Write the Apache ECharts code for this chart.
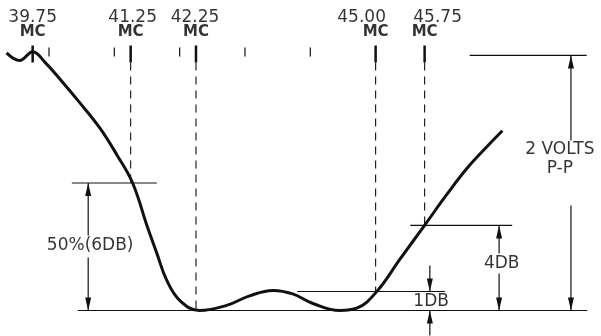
<!DOCTYPE html>
<html>
<head>
<meta charset="utf-8">
<script src="https://cdn.jsdelivr.net/npm/echarts@6/dist/echarts.min.js"></script>
<style>
  html, body { margin: 0; padding: 0; background: #fff; }
  #main { width: 601px; height: 336px; }
</style>
</head>
<body>
<div id="main"></div>
<script>
// response curve (MHz, volts p-p above the passband floor)
const curveFreq = [39.35, 39.55, 39.75, 39.95, 40.16, 40.47, 40.78, 41.04, 41.28, 41.51, 41.65, 41.80,
  42.00, 42.30, 42.72, 43.07, 43.43, 43.73, 44.04, 44.45, 44.72, 45.02, 45.37, 45.78, 46.09,
  46.39, 46.75, 46.94];
const curveVolts = [2.02, 1.96, 2.03, 1.94, 1.82, 1.63, 1.43, 1.22, 1.00, 0.65, 0.45, 0.24,
  0.08, 0.00, 0.04, 0.115, 0.157, 0.13, 0.055, 0.00, 0.02, 0.15, 0.40, 0.69, 0.91,
  1.11, 1.31, 1.41];

// marker frequencies
const markerFreq = [39.75, 41.25, 42.25, 45.00, 45.75];
const markerLabels = ['39.75', '41.25', '42.25', '45.00', '45.75'];
const guideEnds = [null, 1.0, 0.0, 0.149, 0.667];   // where the dashed guides stop (volts)
const minorFreq = [40, 41, 42, 43, 44];

// reference levels: [from MHz, to MHz, volts]
const levelLines = [
  [40.44, 48.24, 0.0],     // floor
  [40.35, 41.65, 1.0],     // 50 %
  [43.80, 46.06, 0.149],   // 1 dB
  [45.53, 47.09, 0.667],   // 4 dB
  [46.44, 48.23, 2.0]      // 2 volts
];

// dimension arrows: [MHz, from volts, to volts] (head at "to")
const dimArrows = [
  [40.60, 0.588, 1.0], [40.60, 0.416, 0.0],
  [46.89, 0.447, 0.667], [46.89, 0.29, 0.0],
  [45.83, 0.353, 0.149], [45.83, -0.196, 0.0],
  [47.99, 1.333, 2.0], [47.99, 0.824, 0.0]
];

// dimension texts: [MHz, volts, text]
const dimTexts = [
  [40.63, 0.51, '50%(6DB)'],
  [46.93, 0.369, '4DB'],
  [45.85, 0.07, '1DB'],
  [47.82, 1.263, '2 VOLTS'],
  [47.82, 1.114, 'P-P']
];

// layout for the top scale
const NUM_Y = 2.298, MC_Y = 2.18;
const MAJ_TOP = 2.078, MAJ_BOT = 1.945;
const MIN_TOP = 2.063, MIN_BOT = 1.992;
const numShift = [0, 2, -1, -14, 13];   // px nudges of the frequency numbers

const INK = '#111';

const solidSegs = levelLines.map(l => [l[0], l[2], l[1], l[2]])
  .concat(dimArrows.map(a => [a[0], a[1], a[0], a[2]]))
  .concat(minorFreq.map(f => [f, MIN_TOP, f, MIN_BOT]));
const majorSegs = markerFreq.map(f => [f, MAJ_TOP, f, MAJ_BOT]);
const dashSegs = [];
markerFreq.forEach((f, i) => {
  if (guideEnds[i] !== null) dashSegs.push([f, MAJ_BOT, f, guideEnds[i]]);
});
const heads = dimArrows.map(a => [a[0], a[2], a[2] > a[1] ? 1 : -1]);

function segSeries(data, width, dash) {
  return {
    type: 'custom',
    data: data,
    silent: true,
    renderItem: function (params, api) {
      const p1 = api.coord([api.value(0), api.value(1)]);
      const p2 = api.coord([api.value(2), api.value(3)]);
      return {
        type: 'line',
        shape: { x1: p1[0], y1: p1[1], x2: p2[0], y2: p2[1] },
        style: { stroke: INK, lineWidth: width, lineDash: dash || null }
      };
    }
  };
}

const topLabels = [];
markerFreq.forEach((f, i) => {
  topLabels.push({ name: markerLabels[i], value: [f, NUM_Y], label: { fontSize: 17, offset: [numShift[i], 0] } });
  topLabels.push({ name: 'MC', value: [f, MC_Y], label: { fontSize: 15, fontWeight: 'bold' } });
});
const textData = dimTexts.map(t => ({ name: t[2], value: [t[0], t[1]] }));

const chart = echarts.init(document.getElementById('main'));
chart.setOption({
  animation: false,
  backgroundColor: '#fff',
  grid: { left: 0, right: 0, top: 0, bottom: 0 },
  xAxis: { type: 'value', min: 39.25, max: 48.45, show: false },
  yAxis: { type: 'value', min: -0.2, max: 2.435, show: false },
  series: [
    {
      type: 'line',
      data: curveFreq.map((f, i) => [f, curveVolts[i]]),
      smooth: 0.4,
      showSymbol: false,
      lineStyle: { color: INK, width: 3 }
    },
    segSeries(solidSegs, 1.2),
    segSeries(majorSegs, 2.5),
    segSeries(dashSegs, 1.1, [8, 6]),
    {
      type: 'custom',
      data: heads,
      silent: true,
      renderItem: function (params, api) {
        const tip = api.coord([api.value(0), api.value(1)]);
        const d = api.value(2);
        return {
          type: 'polygon',
          shape: { points: [[tip[0], tip[1]], [tip[0] - 3, tip[1] + d * 13], [tip[0] + 3, tip[1] + d * 13]] },
          style: { fill: INK }
        };
      }
    },
    {
      type: 'scatter',
      symbolSize: 0,
      silent: true,
      data: topLabels.concat(textData),
      label: {
        show: true,
        position: 'inside',
        formatter: '{b}',
        color: '#000',
        textBorderWidth: 0,
        fontFamily: 'DejaVu Sans',
        fontSize: 17
      }
    }
  ]
});
</script>
</body>
</html>
